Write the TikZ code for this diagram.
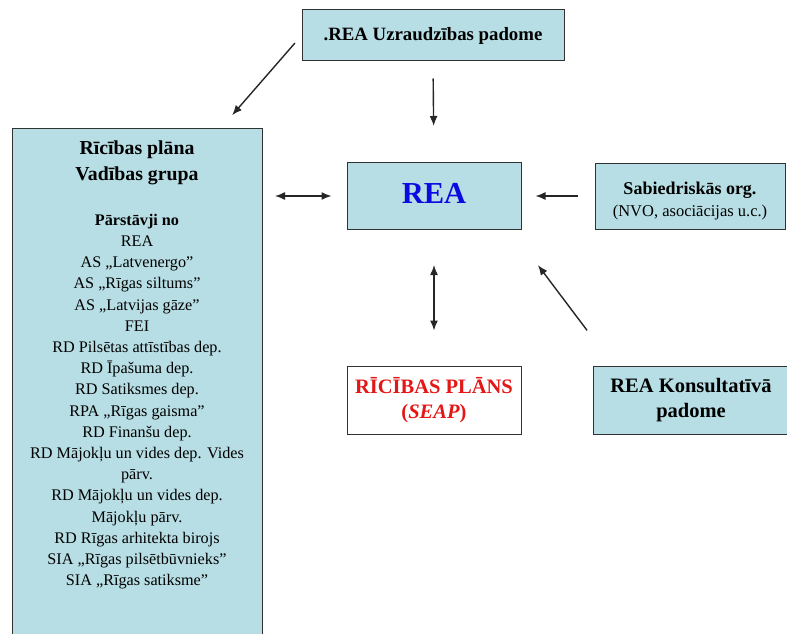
\documentclass[tikz,border=0pt]{standalone}
\usepackage{fontspec}
\setmainfont{Liberation Serif}
\usetikzlibrary{arrows.meta}
\usetikzlibrary{positioning}
\definecolor{mfill}{RGB}{183, 222, 228}
\definecolor{mline}{RGB}{50, 50, 50}
\definecolor{mblue}{RGB}{10, 10, 225}
\definecolor{mred}{RGB}{228, 22, 22}
\tikzset{box/.style = {draw=mline, fill=mfill, line width=1pt,
                       inner sep=2pt, align=center}}
\tikzset{arr/.style = {-{Latex[length=10pt, width=8pt]}, line width=1.4pt,
                       draw=black!85}}
\tikzset{dbl/.style = {{Latex[length=10pt, width=8pt]}-{Latex[length=10pt, width=8pt]},
                       line width=1.4pt, draw=black!85}}

\begin{document}
\begin{tikzpicture}[x=1pt, y=-1pt]
      \useasboundingbox (0, 0) rectangle (787, 634);

      \node [box, minimum width=262, minimum height=51,
             font=\fontsize{18.8}{22}\selectfont\bfseries] (uzr) at (433, 35.5)
            {.REA Uzraudzības padome};
      \node [box, minimum width=174, minimum height=67,
             font=\fontsize{30.5}{36}\selectfont\bfseries, text=mblue] (rea) at (434, 196)
            {REA\rule[-6pt]{0pt}{6pt}};
      \node [box, minimum width=190, minimum height=66] (sab) at (690, 196)
            {{\fontsize{18}{22}\selectfont\bfseries \rule{0pt}{22pt}Sabiedriskās org.}\\[6pt]
             {\fontsize{16.5}{20}\selectfont (NVO, asociācijas u.c.)}};
      \node [box, fill=white, minimum width=174, minimum height=68,
             font=\fontsize{20.5}{25}\selectfont\bfseries, text=mred] (plan) at (434, 400)
            {RĪCĪBAS PLĀNS\\(\textit{SEAP})};
      \node [box, minimum width=196, minimum height=68,
             font=\fontsize{20.5}{25}\selectfont\bfseries] (kons) at (691, 400)
            {REA Konsultatīvā\\padome};

      % big group box, runs off the bottom
      \node [box, minimum width=250, minimum height=520, anchor=north west] (grupa) at (12, 128) {};
      \node [align=center, font=\fontsize{19.8}{26}\selectfont\bfseries] (virsr) at (137, 163)
            {Rīcības plāna\\Vadības grupa};
      \node [align=center, font=\fontsize{16.2}{21.2}\selectfont, anchor=north,
             below=22pt of virsr] (saraksts)
            {{\bfseries Pārstāvji no}\\
             REA\\
             AS „Latvenergo”\\
             AS „Rīgas siltums”\\
             AS „Latvijas gāze”\\
             FEI\\
             RD Pilsētas attīstības dep.\\
             RD Īpašuma dep.\\
             RD Satiksmes dep.\\
             RPA „Rīgas gaisma”\\
             RD Finanšu dep.\\
             RD Mājokļu un vides dep. Vides\\
             pārv.\\
             RD Mājokļu un vides dep.\\
             Mājokļu pārv.\\
             RD Rīgas arhitekta birojs\\
             SIA „Rīgas pilsētbūvnieks”\\
             SIA „Rīgas satiksme”};

      \draw [arr, shorten <=10pt, shorten >=17pt] (uzr.west) -- ([xshift=-42pt]grupa.north east);
      \draw [arr, shorten <=17pt, shorten >=36pt] (uzr.south) -- (rea.north);
      \draw [dbl, shorten <=12pt, shorten >=15pt] (grupa.east |- rea.west) -- (rea.west);
      \draw [arr, shorten <=17pt, shorten >=14pt] (sab.west) -- (rea.east);
      \draw [dbl, shorten <=35pt, shorten >=35pt] (rea.south) -- (plan.north);
      \draw [arr, shorten <=44pt, shorten >=44pt] ([xshift=21pt]kons.north west) -- ([xshift=-10pt]rea.south east);
    \end{tikzpicture}
\end{document}
